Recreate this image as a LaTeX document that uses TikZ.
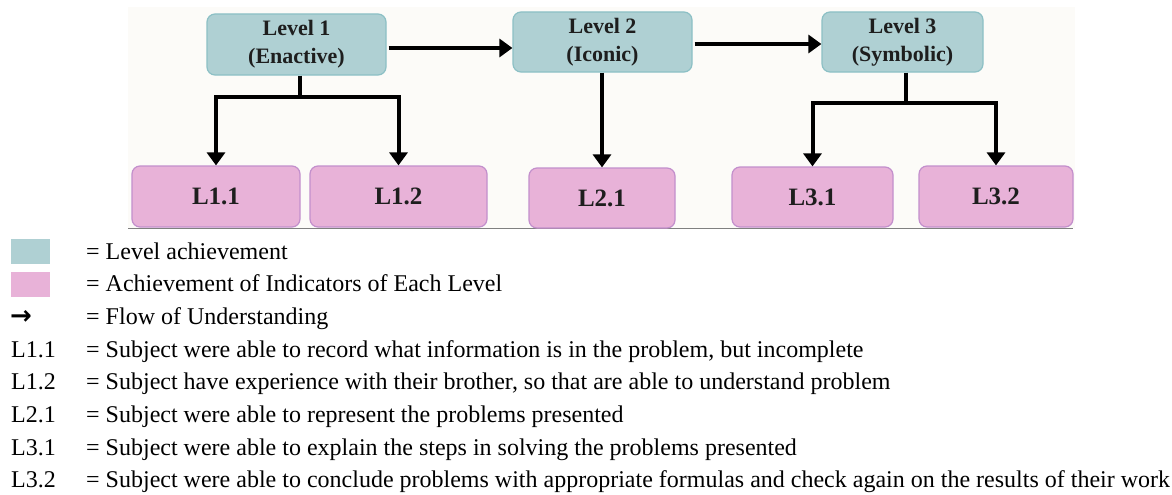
\documentclass[tikz,border=0pt]{standalone}
\usepackage{fontspec}
\setmainfont{Liberation Serif}
\newfontfamily\symfont{DejaVu Sans}
\usetikzlibrary{arrows.meta}
\definecolor{lvfill}{HTML}{AFD0D3}
\definecolor{lvdraw}{HTML}{8CC0C5}
\definecolor{indfill}{HTML}{E8B2D8}
\definecolor{inddraw}{HTML}{C38FCC}
\definecolor{panel}{HTML}{FCFBF8}
\definecolor{txt}{HTML}{1E1E1E}
\begin{document}
\begin{tikzpicture}[x=1pt,y=-1pt,
  lvbox/.style={draw=lvdraw, fill=lvfill, line width=1.2pt, rounded corners=8pt, align=center, text=txt, font=\fontsize{22}{28}\selectfont\bfseries, inner sep=0pt},
  indbox/.style={draw=inddraw, fill=indfill, line width=1.2pt, rounded corners=8pt, text=txt, font=\fontsize{25}{30}\selectfont\bfseries, inner sep=0pt},
  conn/.style={line width=4pt, black},
  tip/.style={-{Triangle[width=18pt,length=13pt]}},
  legtxt/.style={anchor=base west, inner sep=0pt, font=\fontsize{24}{29}\selectfont, text=black},
  swatch/.style={anchor=north west, inner sep=0pt, minimum width=39pt, minimum height=25pt}]
\useasboundingbox (0,0) rectangle (1172,495);
\fill[panel] (128,7) rectangle (1075,228);
\draw[black!50, line width=1pt] (128,228) -- (1073,228);

% level boxes
\node[lvbox, minimum width=179pt, minimum height=61pt] (lv1) at (296.5,44.5) {Level 1\\(Enactive)};
\node[lvbox, minimum width=179pt, minimum height=60pt] (lv2) at (602.5,42) {Level 2\\(Iconic)};
\node[lvbox, minimum width=161pt, minimum height=60pt] (lv3) at (902.5,42) {Level 3\\(Symbolic)};

% indicator boxes
\node[indbox, minimum width=168pt, minimum height=61pt] (i11) at (216,196.5) {L1.1};
\node[indbox, minimum width=177pt, minimum height=61pt] (i12) at (398.5,196.5) {L1.2};
\node[indbox, minimum width=146pt, minimum height=60pt] (i21) at (602,198) {L2.1};
\node[indbox, minimum width=161pt, minimum height=60pt] (i31) at (812.5,197) {L3.1};
\node[indbox, minimum width=154pt, minimum height=61pt] (i32) at (996,196.5) {L3.2};

% flow arrows
\draw[conn,tip] ([xshift=2pt,yshift=-3.5pt]lv1.east) -- ([yshift=-6pt]lv2.west);
\draw[conn,tip] ([xshift=2pt,yshift=-2pt]lv2.east) -- ([yshift=-2pt]lv3.west);

% branches
\coordinate (j1) at (300,97);
\draw[conn] (lv1.south -| j1) -- (j1);
\draw[conn,tip] (j1) -| (i11.north);
\draw[conn,tip] (j1) -| (i12.north);
\draw[conn,tip] (lv2.south -| i21.north) -- (i21.north);
\coordinate (j3) at (906,103);
\draw[conn] (lv3.south -| j3) -- (j3);
\draw[conn,tip] (j3) -| (i31.north);
\draw[conn,tip] (j3) -| (i32.north);

% legend
\node[swatch, fill=lvfill] (sw1) at (11,239) {};
\node[swatch, fill=indfill] (sw2) at (11,272) {};
\node[anchor=base west, inner sep=0pt, font=\symfont\bfseries\fontsize{26}{26}\selectfont] (sw3) at (10,324.4) {→};
\node[legtxt] (k1) at (11,357.1) {L1.1};
\node[legtxt] (k2) at (11,389.8) {L1.2};
\node[legtxt] (k3) at (11,422.5) {L2.1};
\node[legtxt] (k4) at (11,455.2) {L3.1};
\node[legtxt] (k5) at (11,487.9) {L3.2};

\node[legtxt] (t1) at (86,259) {= Level achievement};
\node[legtxt] (t2) at (86,291.7) {= Achievement of Indicators of Each Level};
\node[legtxt] (t3) at (86,324.4) {= Flow of Understanding};
\node[legtxt] (t4) at (86,357.1) {= Subject were able to record what information is in the problem, but incomplete};
\node[legtxt] (t5) at (86,389.8) {= Subject have experience with their brother, so that are able to understand problem};
\node[legtxt] (t6) at (86,422.5) {= Subject were able to represent the problems presented};
\node[legtxt] (t7) at (86,455.2) {= Subject were able to explain the steps in solving the problems presented};
\node[legtxt] (t8) at (86,487.9) {= Subject were able to conclude problems with appropriate formulas and check again on the results of their work};
\end{tikzpicture}
\end{document}
